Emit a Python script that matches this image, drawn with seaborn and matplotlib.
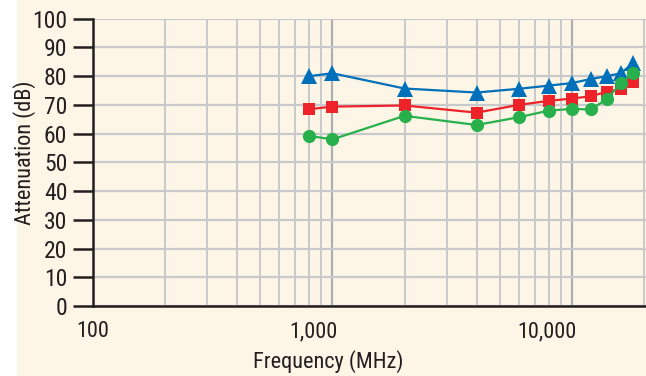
import numpy as np
import pandas as pd
import matplotlib
matplotlib.use("Agg")
import matplotlib.pyplot as plt
import matplotlib.transforms as mtransforms
from matplotlib.ticker import FixedLocator, NullFormatter, LogLocator
from matplotlib import font_manager
import seaborn as sns

# ---- data ----
freq_mhz = [800, 1000, 2000, 4000, 6000, 8000, 10000, 12000, 14000, 16000, 18000]
series_blue = [80.0, 81.0, 75.7, 74.3, 75.6, 76.7, 77.6, 79.0, 80.0, 81.0, 84.5]
series_red = [68.5, 69.4, 69.8, 67.3, 70.0, 71.4, 72.2, 73.0, 74.6, 75.4, 77.8]
series_green = [59.2, 58.0, 66.2, 63.0, 65.7, 68.0, 68.6, 68.4, 72.0, 77.5, 81.0]
series_names = ["A", "B", "C"]
x_tick_values = [100, 1000, 10000]
x_tick_labels = ["100", "1,000", "10,000"]
y_tick_values = list(range(0, 101, 10))

df = pd.DataFrame({
    "Frequency (MHz)": freq_mhz * 3,
    "Attenuation (dB)": series_blue + series_red + series_green,
    "series": [series_names[0]] * len(freq_mhz) + [series_names[1]] * len(freq_mhz)
              + [series_names[2]] * len(freq_mhz),
})

sns.set_theme(style="white")
installed = {f.name for f in font_manager.fontManager.ttflist}
condensed = [n for n in ["Roboto Condensed", "Liberation Sans Narrow", "Open Sans Condensed",
                         "DejaVu Sans Condensed"] if n in installed]
fam = (condensed + ["Liberation Sans", "DejaVu Sans"])
plt.rcParams["font.family"] = fam
is_cond = len(condensed) > 0
s_tick = 17 if is_cond else 14.5
s_lab = 16 if is_cond else 13.5

CREAM = "#FDF5E6"
GRID = "#C8C9CC"
GRID_MAJ = "#ADAFB3"
INK = "#231F20"
palette = {"A": "#0070BA", "B": "#EE2229", "C": "#27B04B"}
markers = {"A": "^", "B": "s", "C": "o"}

fig = plt.figure(figsize=(6.46, 3.76), dpi=100, facecolor=CREAM)
fig.patches.append(plt.Rectangle((0, 0), 17 / 646, 1, transform=fig.transFigure,
                                 facecolor="white", edgecolor="none", zorder=-10))
ax = fig.add_axes([93 / 646, (376 - 306) / 376, 1 - 93 / 646, (306 - 18.7) / 376])
ax.set_facecolor(CREAM)
ax.set_xscale("log")
ax.set_xlim(100, 20400)
ax.set_ylim(0, 100)

sns.lineplot(data=df, x="Frequency (MHz)", y="Attenuation (dB)", hue="series", style="series",
             palette=palette, markers=markers, dashes=False, linewidth=1.6,
             markersize=10, markeredgewidth=0, legend=False, ax=ax, zorder=3)
for ln in ax.lines:
    if ln.get_marker() == "s":
        ln.set_markersize(9)
    elif ln.get_marker() == "o":
        ln.set_markersize(9.5)
    elif ln.get_marker() == "^":
        ln.set_markersize(11)

# grid
ax.xaxis.set_major_locator(FixedLocator(x_tick_values))
ax.xaxis.set_minor_locator(LogLocator(base=10, subs=np.arange(2, 10)))
ax.xaxis.set_minor_formatter(NullFormatter())
ax.set_xticklabels(x_tick_labels)
ax.set_yticks(y_tick_values)
ax.grid(which="major", axis="x", color=GRID_MAJ, linewidth=1.6, zorder=1)
ax.grid(which="minor", axis="x", color=GRID, linewidth=1.4, zorder=1)
ax.grid(which="major", axis="y", color=GRID, linewidth=1.6, zorder=1)
ax.set_axisbelow(True)

for s in ["top", "right"]:
    ax.spines[s].set_visible(False)
for s in ["left", "bottom"]:
    ax.spines[s].set_color(INK)
    ax.spines[s].set_linewidth(1.8)
    ax.spines[s].set_zorder(4)

ax.tick_params(axis="y", which="major", length=14.5, width=1.8, color=INK, pad=4,
               labelsize=s_tick, labelcolor=INK, left=True)
ax.tick_params(axis="x", which="both", length=0, pad=11, labelsize=s_tick - 1, labelcolor=INK)

labs = ax.get_xticklabels()
for lab in labs[1:]:
    lab.set_horizontalalignment("right")
    lab.set_transform(lab.get_transform() + mtransforms.ScaledTranslation(5 / 100, 0, fig.dpi_scale_trans))

ax.set_xlabel("Frequency (MHz)", fontsize=s_lab, color=INK, labelpad=2)
ax.set_ylabel("Attenuation (dB)", fontsize=s_lab, color=INK, labelpad=4)
ax.xaxis.set_label_coords((328 - 93) / (646 - 93), -(362 - 306) / (306 - 18.7))
ax.yaxis.set_label_coords(-(93 - 25) / (646 - 93), (306 - 153) / (306 - 18.7))
ax.xaxis.label.set_va("center")
ax.yaxis.label.set_va("center")

fig.savefig("out.png", dpi=100, facecolor=CREAM)
